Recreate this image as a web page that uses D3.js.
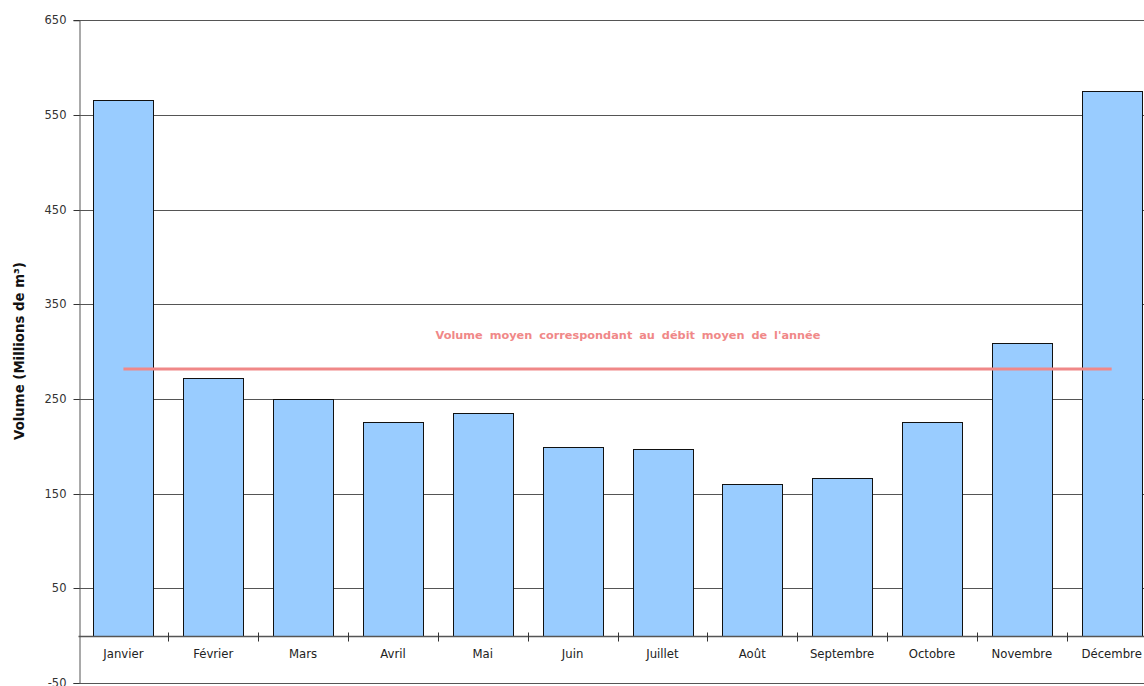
<!DOCTYPE html>
<html>
<head>
<meta charset="utf-8">
<script src="https://cdn.jsdelivr.net/npm/d3@7"></script>
<style>
  html, body { margin: 0; padding: 0; background: #fff; }
  svg { display: block; }
  text { font-family: "DejaVu Sans", Verdana, sans-serif; }
</style>
</head>
<body>
<svg id="chart" width="1144" height="686"></svg>
<script>
// Monthly volumes (millions of m³)
const months = ["Janvier", "Février", "Mars", "Avril", "Mai", "Juin",
                "Juillet", "Août", "Septembre", "Octobre", "Novembre", "Décembre"];
const volumes = [566, 272.5, 250, 226, 235, 199, 197, 160, 167, 226, 309, 575];
const meanVolume = 281.7;
const meanLabel = "Volume moyen correspondant au débit moyen de l'année";
const yTicks = [-50, 50, 150, 250, 350, 450, 550, 650];
const yTitle = "Volume (Millions de m³)";

const svg = d3.select("#chart");
const left = 78.5, step = 89.84;
const right = left + step * months.length;

const y = d3.scaleLinear().domain([-50, 650]).range([683, 20.3]);
const x = d3.scaleBand().domain(months)
  .range([left, right]).paddingInner(1 / 3).paddingOuter(1 / 6);

// horizontal gridlines
svg.append("g").selectAll("line")
  .data(yTicks.filter(d => d !== -50))
  .join("line")
  .attr("x1", left).attr("x2", right)
  .attr("y1", d => Math.round(y(d)) + 0.5).attr("y2", d => Math.round(y(d)) + 0.5)
  .attr("stroke", "#555").attr("stroke-width", 1);

// bottom frame line
svg.append("line")
  .attr("x1", left).attr("x2", right)
  .attr("y1", Math.round(y(-50)) + 0.5).attr("y2", Math.round(y(-50)) + 0.5)
  .attr("stroke", "#555");

// bars
svg.append("g").selectAll("rect")
  .data(volumes)
  .join("rect")
  .attr("x", (d, i) => Math.round(x(months[i])) + 0.5)
  .attr("width", Math.round(x.bandwidth()))
  .attr("y", d => Math.round(y(d)) + 0.5)
  .attr("height", d => Math.round(y(0)) - Math.round(y(d)))
  .attr("fill", "#99ccff")
  .attr("stroke", "#111").attr("stroke-width", 1);

// y axis
const yAxis = d3.axisLeft(y).tickValues(yTicks).tickSize(6).tickPadding(7)
  .tickFormat(d => String(d));
const gy = svg.append("g").attr("transform", `translate(${Math.round(left) + 0.5},0)`).call(yAxis);
gy.select(".domain").attr("stroke", "#555");
gy.selectAll(".tick line").attr("stroke", "#333");
gy.selectAll(".tick text").attr("font-size", 11.5).attr("fill", "#333");
gy.selectAll(".tick").attr("transform", d => `translate(0,${Math.round(y(d)) + 0.5})`);

// x axis at zero with ticks between categories
const zeroY = Math.round(y(0)) + 0.5;
svg.append("line")
  .attr("x1", left).attr("x2", right)
  .attr("y1", zeroY).attr("y2", zeroY)
  .attr("stroke", "#555").attr("stroke-width", 1.5);
svg.append("g").selectAll("line")
  .data(d3.range(1, months.length))
  .join("line")
  .attr("x1", i => Math.round(left + i * step) + 0.5)
  .attr("x2", i => Math.round(left + i * step) + 0.5)
  .attr("y1", zeroY - 4).attr("y2", zeroY + 5)
  .attr("stroke", "#333");
svg.append("g").selectAll("text")
  .data(months)
  .join("text")
  .attr("x", d => x(d) + x.bandwidth() / 2)
  .attr("y", 658)
  .attr("text-anchor", "middle")
  .attr("font-size", 11.7)
  .attr("fill", "#222")
  .text(d => d);

// mean volume line
svg.append("line")
  .attr("x1", x(months[0]) + x.bandwidth() / 2)
  .attr("x2", x(months[months.length - 1]) + x.bandwidth() / 2)
  .attr("y1", y(meanVolume)).attr("y2", y(meanVolume))
  .attr("stroke", "#f08888").attr("stroke-width", 3);
svg.append("text")
  .attr("x", 628).attr("y", 339)
  .attr("text-anchor", "middle")
  .attr("font-size", 11.3).attr("font-weight", "bold")
  .attr("word-spacing", 3)
  .attr("fill", "#f08888")
  .text(meanLabel);

// y axis title
svg.append("text")
  .attr("transform", "translate(24,351) rotate(-90)")
  .attr("text-anchor", "middle")
  .attr("font-size", 13.3).attr("font-weight", "bold")
  .attr("fill", "#111")
  .text(yTitle);
</script>
</body>
</html>
